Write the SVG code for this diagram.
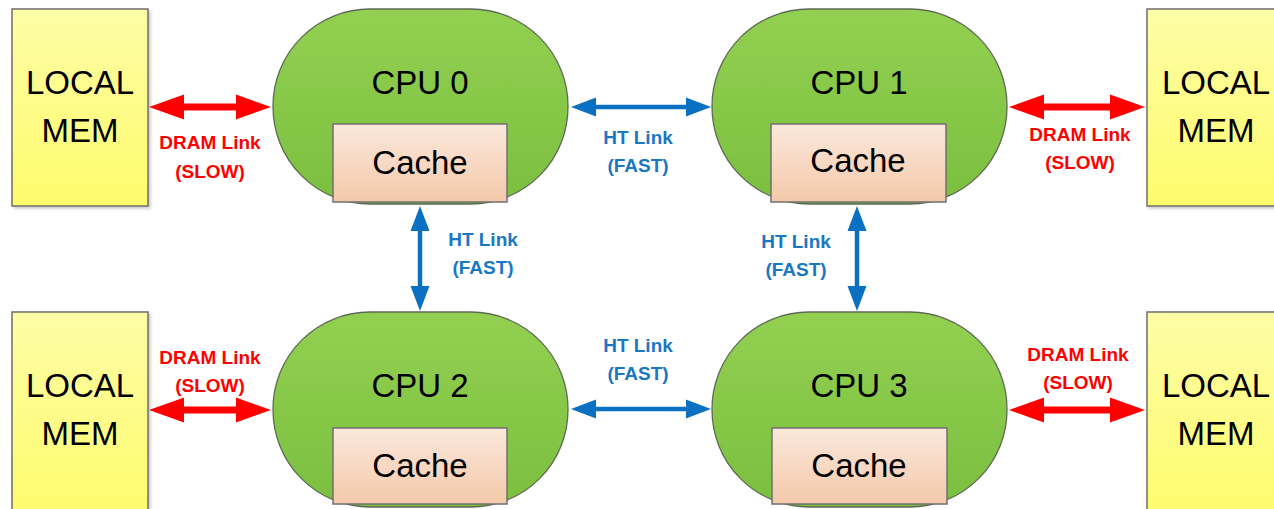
<svg xmlns="http://www.w3.org/2000/svg" width="1274" height="509" viewBox="0 0 1274 509">
<defs>
<linearGradient id="gCpu" x1="0" y1="0" x2="0" y2="1"><stop offset="0" stop-color="#93d052"/><stop offset="1" stop-color="#7bbf3f"/></linearGradient>
<linearGradient id="gCache" x1="0" y1="0" x2="0" y2="1"><stop offset="0" stop-color="#fbe8dc"/><stop offset="1" stop-color="#f4c9aa"/></linearGradient>
<linearGradient id="gMem" x1="0" y1="0" x2="0" y2="1"><stop offset="0" stop-color="#fdfda6"/><stop offset="1" stop-color="#fffb6c"/></linearGradient>
<marker id="hRed" markerUnits="userSpaceOnUse" markerWidth="36" markerHeight="26" refX="1" refY="12.5" orient="auto-start-reverse" viewBox="0 0 36 25"><path d="M0,0 L35,12.5 L0,25 z" fill="#ff0000"/></marker>
<marker id="hBlue" markerUnits="userSpaceOnUse" markerWidth="26" markerHeight="20" refX="1" refY="9.5" orient="auto-start-reverse" viewBox="0 0 26 19"><path d="M0,0 L25,9.5 L0,19 z" fill="#0a70c2"/></marker>
<filter id="sh" x="-10%" y="-10%" width="130%" height="130%"><feDropShadow dx="2" dy="2" stdDeviation="1.5" flood-color="#000" flood-opacity="0.2"/></filter>
</defs>
<style>
.cpu{fill:url(#gCpu);stroke:#5d6b55;stroke-width:1.3}
.cache{fill:url(#gCache);stroke:#707070;stroke-width:1.5}
.mem{fill:url(#gMem);stroke:#6e6e6e;stroke-width:1.5}
.big{font-family:"Liberation Sans",Arial,sans-serif;font-size:33px;fill:#000;text-anchor:middle}
.lbl{font-family:"Liberation Sans",Arial,sans-serif;font-size:19px;font-weight:bold;text-anchor:middle}
.red{fill:#ff0000}
.blue{fill:#1a78c2}
.ar{stroke:#ff0000;stroke-width:7;fill:none;marker-start:url(#hRed);marker-end:url(#hRed)}
.ab{stroke:#0a70c2;stroke-width:4.5;fill:none;marker-start:url(#hBlue);marker-end:url(#hBlue)}
</style>

<g id="mem0"><rect class="mem" x="12" y="9" width="136" height="197" filter="url(#sh)"/><text class="big" x="80" y="94">LOCAL</text><text class="big" x="80" y="142">MEM</text></g>
<g id="mem1"><rect class="mem" x="1147" y="9" width="136" height="197" filter="url(#sh)"/><text class="big" x="1216" y="94">LOCAL</text><text class="big" x="1216" y="142">MEM</text></g>
<g id="mem2"><rect class="mem" x="12" y="312" width="136" height="205" filter="url(#sh)"/><text class="big" x="80" y="397">LOCAL</text><text class="big" x="80" y="445">MEM</text></g>
<g id="mem3"><rect class="mem" x="1147" y="312" width="136" height="205" filter="url(#sh)"/><text class="big" x="1216" y="397">LOCAL</text><text class="big" x="1216" y="445">MEM</text></g>

<g id="cpu0"><rect class="cpu" x="273" y="9" width="295" height="195" rx="97" ry="97"/><text class="big" x="420" y="94">CPU 0</text><rect class="cache" x="333" y="124" width="174" height="78"/><text class="big" x="420" y="174">Cache</text></g>
<g id="cpu1"><rect class="cpu" x="712" y="9" width="295" height="195" rx="97" ry="97"/><text class="big" x="859" y="94">CPU 1</text><rect class="cache" x="771" y="124" width="175" height="78"/><text class="big" x="858" y="172">Cache</text></g>
<g id="cpu2"><rect class="cpu" x="273" y="312" width="295" height="195" rx="97" ry="97"/><text class="big" x="420" y="397">CPU 2</text><rect class="cache" x="333" y="428" width="174" height="76"/><text class="big" x="420" y="477">Cache</text></g>
<g id="cpu3"><rect class="cpu" x="712" y="312" width="295" height="195" rx="97" ry="97"/><text class="big" x="859" y="397">CPU 3</text><rect class="cache" x="772" y="428" width="175" height="76"/><text class="big" x="859" y="477">Cache</text></g>

<g id="connectors">
<line class="ar" x1="183" y1="107" x2="237" y2="107"/>
<line class="ar" x1="1043" y1="107" x2="1111" y2="107"/>
<line class="ar" x1="183" y1="410" x2="237" y2="410"/>
<line class="ar" x1="1043" y1="410" x2="1111" y2="410"/>
<line class="ab" x1="595" y1="107" x2="687" y2="107"/>
<line class="ab" x1="595" y1="409" x2="687" y2="409"/>
<line class="ab" x1="420" y1="230" x2="420" y2="287"/>
<line class="ab" x1="857" y1="230" x2="857" y2="287"/>
<text class="lbl red" x="210" y="149">DRAM Link</text><text class="lbl red" x="210" y="178">(SLOW)</text>
<text class="lbl red" x="1080" y="141">DRAM Link</text><text class="lbl red" x="1080" y="169">(SLOW)</text>
<text class="lbl red" x="210" y="364">DRAM Link</text><text class="lbl red" x="210" y="392">(SLOW)</text>
<text class="lbl red" x="1078" y="361">DRAM Link</text><text class="lbl red" x="1078" y="389">(SLOW)</text>
<text class="lbl blue" x="638" y="144">HT Link</text><text class="lbl blue" x="638" y="172">(FAST)</text>
<text class="lbl blue" x="638" y="352">HT Link</text><text class="lbl blue" x="638" y="380">(FAST)</text>
<text class="lbl blue" x="483" y="246">HT Link</text><text class="lbl blue" x="483" y="274">(FAST)</text>
<text class="lbl blue" x="796" y="248">HT Link</text><text class="lbl blue" x="796" y="276">(FAST)</text>
</g>
</svg>
